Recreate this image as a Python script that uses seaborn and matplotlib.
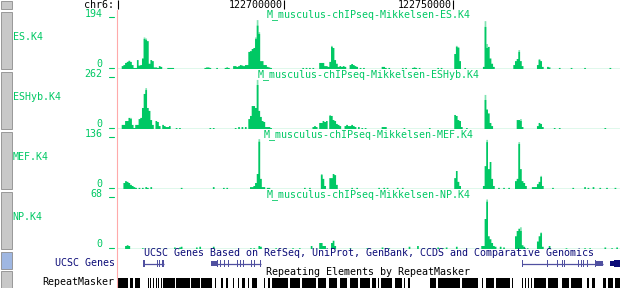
import matplotlib
matplotlib.use("Agg")
import matplotlib.pyplot as plt
from matplotlib.patches import Rectangle
from matplotlib.lines import Line2D
import numpy as np
import pandas as pd
import seaborn as sns

sns.set_theme(style="white")
plt.rcParams['font.family'] = ['DejaVu Sans Mono', 'DejaVu Sans']

# ---------------- data ----------------
CHROM = "chr6:"
WIN_START = 122650570
WIN_END = 122799460
RULER_TICKS = [122700000, 122750000]
BIN_BP = 500

track_labels = ["ES.K4", "ESHyb.K4", "MEF.K4", "NP.K4"]
track_titles = ["M_musculus-chIPseq-Mikkelsen-ES.K4",
                "M_musculus-chIPseq-Mikkelsen-ESHyb.K4",
                "M_musculus-chIPseq-Mikkelsen-MEF.K4",
                "M_musculus-chIPseq-Mikkelsen-NP.K4"]
track_max = [194, 262, 136, 68]

# (position in kb from window start, mean signal)
es = [(1.5, 11), (2.0, 15), (2.5, 23), (3.0, 27), (3.5, 30), (4.0, 27), (4.5, 15), (5.0, 4), (5.5, 4),
      (6.0, 34), (6.5, 13), (7.0, 15), (7.5, 40), (8.0, 114), (8.5, 110), (9.0, 106), (9.5, 20),
      (10.0, 34), (10.5, 30), (11.0, 6), (11.5, 6), (12.0, 4), (12.5, 11), (13.0, 8),
      (15.0, 4), (15.5, 4), (16.0, 4), (16.5, 4), (26.0, 4), (26.5, 6), (27.0, 6), (27.5, 4), (29.5, 4),
      (32.0, 4), (32.5, 6), (33.0, 4), (34.5, 11), (35.0, 11), (35.5, 8), (36.0, 11), (36.5, 15),
      (37.0, 13), (37.5, 11), (38.0, 15), (38.5, 15), (39.0, 65), (39.5, 68), (40.0, 76), (40.5, 80),
      (41.0, 114), (41.5, 165), (42.0, 133), (42.5, 30), (43.0, 30), (43.5, 15), (44.0, 15), (44.5, 8),
      (45.0, 6), (45.5, 4), (55.0, 4), (56.0, 4), (57.0, 4), (58.0, 4), (60.0, 23), (60.5, 23),
      (61.0, 23), (61.5, 11), (62.0, 11), (62.5, 8), (63.0, 27), (63.5, 84), (64.0, 80), (64.5, 34),
      (65.0, 20), (65.5, 8), (66.0, 11), (66.5, 8), (67.0, 11), (67.5, 8), (69.0, 15), (69.5, 19),
      (70.0, 15), (70.5, 11), (71.0, 8), (72.0, 4), (73.0, 4), (78.5, 8), (79.0, 8), (79.5, 4),
      (80.5, 4), (84.5, 4), (85.5, 4), (87.5, 4), (88.0, 6), (88.5, 4), (89.5, 4), (95.0, 4), (96.0, 4),
      (100.0, 57), (100.5, 84), (101.0, 80), (101.5, 30), (103.0, 4), (108.5, 8), (109.0, 160),
      (109.5, 80), (110.0, 84), (110.5, 40), (111.0, 20), (111.5, 8), (117.5, 15), (118.0, 30),
      (118.5, 38), (119.0, 65), (119.5, 30), (120.0, 11), (124.5, 15), (125.0, 34), (125.5, 30),
      (126.0, 8), (127.5, 8), (128.0, 6), (131.0, 4), (134.5, 4), (138.5, 4), (146.0, 4)]
es_max = [(3.5, 32), (8.0, 120), (8.5, 116), (41.0, 120), (41.5, 186), (42.0, 140), (63.5, 88),
          (100.5, 88), (101.0, 84), (109.0, 182), (109.5, 95), (119.0, 72), (125.0, 38)]

eshyb = [(1.5, 21), (2.0, 21), (2.5, 41), (3.0, 41), (3.5, 57), (4.0, 51), (4.5, 21), (5.0, 5),
         (5.5, 21), (6.0, 21), (6.5, 51), (7.0, 57), (7.5, 108), (8.0, 180), (8.5, 200), (9.0, 108),
         (9.5, 93), (10.0, 46), (10.5, 21), (11.5, 41), (12.0, 36), (12.5, 15), (13.5, 21), (14.0, 15),
         (14.5, 10), (15.0, 10), (15.5, 15), (17.5, 5), (18.5, 5), (27.5, 5), (28.5, 5), (35.0, 5),
         (36.0, 10), (37.0, 10), (38.0, 10), (39.0, 51), (39.5, 67), (40.0, 118), (40.5, 118),
         (41.0, 108), (41.5, 226), (42.0, 93), (42.5, 62), (43.0, 41), (43.5, 36), (44.0, 10),
         (44.5, 10), (45.0, 10), (45.5, 5), (58.0, 10), (58.5, 15), (59.0, 10), (60.0, 31), (60.5, 31),
         (61.0, 41), (61.5, 36), (62.0, 41), (63.0, 67), (63.5, 67), (64.0, 46), (64.5, 41), (65.0, 26),
         (65.5, 21), (66.0, 15), (67.5, 15), (68.0, 21), (68.5, 15), (69.0, 15), (69.5, 21), (70.0, 15),
         (70.5, 10), (71.5, 10), (72.5, 5), (73.5, 5), (78.5, 10), (79.0, 10), (79.5, 10), (85.0, 5),
         (92.5, 5), (100.0, 72), (100.5, 67), (101.0, 46), (101.5, 41), (102.0, 10), (103.5, 5),
         (109.0, 149), (109.5, 100), (110.0, 80), (110.5, 31), (111.0, 15), (118.5, 46), (119.0, 46),
         (119.5, 41), (120.0, 10), (124.5, 15), (125.0, 31), (125.5, 26), (126.0, 10), (129.5, 5),
         (131.0, 5), (144.5, 5)]
eshyb_max = [(4.0, 57), (8.5, 210), (41.5, 252), (63.0, 72), (109.0, 175), (119.5, 51)]

mef = [(2.0, 16), (2.5, 21), (3.0, 19), (3.5, 16), (4.0, 11), (4.5, 8), (5.0, 5), (5.5, 3), (6.5, 3),
       (7.5, 3), (8.5, 5), (9.0, 3), (10.0, 5), (19.0, 3), (28.5, 5), (31.5, 3), (32.5, 3), (39.5, 5),
       (40.0, 5), (40.5, 8), (41.0, 16), (41.5, 40), (42.0, 126), (42.5, 27), (43.0, 5), (43.5, 5),
       (44.5, 3), (45.0, 3), (55.5, 3), (57.0, 3), (60.5, 37), (61.0, 27), (61.5, 8), (63.0, 29),
       (63.5, 29), (64.0, 40), (64.5, 37), (65.0, 11), (69.5, 3), (71.0, 3), (77.5, 3), (79.0, 3),
       (80.0, 3), (83.0, 3), (84.5, 3), (100.0, 29), (100.5, 48), (101.0, 19), (101.5, 8), (108.5, 8),
       (109.0, 61), (109.5, 125), (110.0, 53), (110.5, 72), (111.0, 27), (111.5, 8), (113.0, 3),
       (114.5, 3), (116.0, 3), (118.0, 21), (118.5, 27), (119.0, 120), (119.5, 53), (120.0, 21),
       (120.5, 16), (121.0, 8), (123.0, 5), (123.5, 5), (124.0, 5), (124.5, 13), (125.0, 19),
       (125.5, 32), (126.0, 8), (129.0, 3), (135.0, 3), (138.5, 5), (139.5, 3), (141.0, 5), (143.0, 3),
       (145.0, 3), (147.5, 3)]
mef_max = [(42.0, 133), (60.5, 40), (109.5, 131), (119.0, 125), (125.5, 35)]

np_k4 = [(2.5, 4), (3.0, 5), (3.5, 4), (7.5, 1), (17.0, 2), (18.5, 2), (19.0, 3), (23.5, 2), (24.5, 3),
         (28.5, 3), (39.5, 1), (40.5, 1), (42.0, 4), (42.5, 3), (47.0, 1), (52.0, 1), (54.0, 1),
         (57.5, 4), (60.0, 8), (60.5, 8), (61.0, 4), (61.5, 4), (63.5, 8), (64.0, 11), (64.5, 4),
         (69.0, 1), (74.0, 1), (78.5, 2), (80.5, 1), (86.5, 3), (89.0, 4), (95.0, 2), (96.5, 1),
         (97.5, 2), (100.5, 3), (108.0, 4), (108.5, 4), (109.0, 40), (109.5, 63), (110.0, 17),
         (110.5, 13), (111.0, 8), (111.5, 4), (112.0, 3), (113.5, 3), (114.5, 2), (118.0, 17),
         (118.5, 24), (119.0, 27), (119.5, 24), (120.0, 5), (120.5, 3), (121.5, 1), (124.5, 10),
         (125.0, 17), (125.5, 21), (126.0, 3), (128.0, 4), (133.0, 1), (138.5, 1), (140.0, 1),
         (144.5, 2), (146.5, 1), (148.0, 2)]
np_k4_max = [(109.5, 66), (119.5, 29), (125.5, 22)]

track_data = [es, eshyb, mef, np_k4]
track_data_max = [es_max, eshyb_max, mef_max, np_k4_max]

# genes: (tx start kb, tx end kb, exons [(start, len)], utr blocks [(start, len)], colour key)
genes = [
    (7.7, 13.9, [(7.7, 0.5), (11.7, 0.3), (12.4, 0.3), (13.2, 0.3), (13.6, 0.3)], [], "light"),
    (27.8, 42.6, [(29.6, 0.3), (30.6, 0.3), (31.8, 0.3), (32.9, 0.3), (35.4, 0.3), (36.4, 0.3),
                  (37.4, 0.3), (39.7, 0.3), (40.6, 0.3), (42.3, 0.3)], [(27.8, 2.0)], "light"),
    (119.9, 143.9, [(119.9, 0.3), (127.2, 0.3), (130.2, 0.3), (131.6, 0.3), (132.4, 0.3),
                    (136.5, 0.3), (137.3, 0.3), (138.0, 0.3), (139.0, 0.3), (141.5, 0.3)],
     [(141.5, 2.4)], "light"),
    (145.9, 148.9, [(147.0, 1.9)], [(145.9, 1.2)], "dark"),
]

# RepeatMasker elements (start kb, end kb)
repeats = [(0.3, 3.3), (3.8, 4.7), (5.2, 6.8), (9.2, 9.5), (9.9, 10.2), (10.7, 11.0), (11.4, 11.7),
           (12.1, 12.4), (12.9, 13.2), (13.6, 17.2), (17.5, 21.6), (21.9, 24.6), (24.9, 28.1),
           (29.0, 29.3), (30.8, 31.4), (32.3, 32.9), (34.3, 34.6), (35.8, 36.1), (37.0, 37.9),
           (38.8, 39.1), (40.0, 41.4), (43.5, 43.8), (44.7, 45.3), (45.9, 50.6), (51.2, 54.2),
           (54.8, 58.9), (59.5, 61.9), (62.8, 65.1), (66.0, 68.1), (69.0, 71.3), (71.9, 74.9),
           (75.5, 76.7), (77.3, 77.6), (78.1, 81.4), (82.3, 84.4), (85.0, 85.2), (86.1, 86.7),
           (92.6, 94.4), (95.0, 101.5), (102.1, 106.9), (108.0, 108.3), (109.2, 111.6),
           (112.2, 116.3), (116.9, 117.2), (119.9, 120.2), (120.8, 121.1), (121.7, 122.0),
           (122.5, 122.8), (123.4, 127.0), (127.6, 130.5), (131.7, 133.8), (134.4, 137.6),
           (139.1, 139.7), (140.6, 141.5), (143.9, 144.7), (145.3, 146.8), (147.4, 148.9)]

# ---------------- style ----------------
W, H = 620, 288
GREEN = '#00C864'
LIGHT = '#7FE3B1'
NAVY = '#0C0C78'
GENE_LIGHT = '#5050A0'
FS = 7.2
X0, X1 = 117, 620

fig = plt.figure(figsize=(W / 100, H / 100), dpi=100)
fig.patch.set_facecolor('white')


def fx(x):
    return x / W


def fy(y):
    return 1 - y / H


def px_axes(x0, y0, x1, y1):
    return fig.add_axes([fx(x0), fy(y1), (x1 - x0) / W, (y1 - y0) / H])


# left-side buttons
buttons = [(1, 9, '#C8C8C8'), (12, 69, '#C8C8C8'), (72, 129, '#C8C8C8'), (132, 189, '#C8C8C8'),
           (192, 249, '#C8C8C8'), (252, 269, '#9FB7E2'), (271, 290, '#C8C8C8')]
for (b0, b1, col) in buttons:
    fig.patches.append(Rectangle((fx(1), fy(b1)), 11 / W, (b1 - b0) / H, transform=fig.transFigure,
                                 facecolor=col, edgecolor='#8C8C8C', lw=0.6))

# pink guideline
fig.add_artist(Line2D([fx(116.5), fx(116.5)], [fy(10), fy(288)], color='#FFAAAA', lw=0.8))

# ruler
axr = px_axes(X0, 0, X1, 10)
axr.set_xlim(WIN_START, WIN_END)
axr.set_ylim(10, 0)
axr.axis('off')
axr.vlines([WIN_START + 400] + RULER_TICKS, 0, 8.6, color='black', lw=0.8)
for t in RULER_TICKS:
    axr.text(t - 450, 8.3, f"{t}", ha='right', va='baseline', fontsize=FS, color='black')
fig.text(fx(114), fy(8.3), CHROM, ha='right', va='baseline', fontsize=FS, color='black')

for k in range(4):
    top = 17 + 60 * k
    base = 68.5 + 60 * k
    vmax = track_max[k]
    upp = vmax / 51.0
    ax = px_axes(X0, top, X1, base + 0.5)
    dmax = pd.DataFrame(track_data_max[k], columns=['kb', 'v'])
    dmax['bp'] = WIN_START + dmax['kb'] * 1000
    d = pd.DataFrame(track_data[k], columns=['kb', 'v'])
    d['bp'] = WIN_START + d['kb'] * 1000
    brange = (WIN_START - BIN_BP / 2, WIN_END + BIN_BP / 2)
    sns.histplot(data=dmax, x='bp', weights='v', binwidth=BIN_BP, binrange=brange, element='step',
                 fill=True, color=LIGHT, alpha=1, linewidth=0, ax=ax)
    sns.histplot(data=d, x='bp', weights='v', binwidth=BIN_BP, binrange=brange, element='step',
                 fill=True, color=GREEN, alpha=1, linewidth=0, ax=ax)
    ax.axhline(0, color=GREEN, lw=0.9)
    ax.set_xlim(WIN_START, WIN_END)
    ax.set_ylim(-0.5 * upp, vmax + 0.5 * upp)
    ax.axis('off')

    tb = 16.8 + 60 * k
    fig.text(fx((X0 + X1) / 2), fy(tb), track_titles[k], ha='center', va='baseline',
             fontsize=FS, color=GREEN)
    fig.text(fx(102.5), fy(tb), f"{vmax}", ha='right', va='baseline', fontsize=FS, color=GREEN)
    fig.text(fx(102.5), fy(tb + 50), "0", ha='right', va='baseline', fontsize=FS, color=GREEN)
    for yy in (top - 0.2, base - 0.1):
        fig.add_artist(Line2D([fx(109), fx(113.5)], [fy(yy), fy(yy)], color=GREEN, lw=0.8))
    fig.text(fx(12.5), fy(39.6 + 60.3 * k), track_labels[k], ha='left', va='baseline',
             fontsize=FS, color=GREEN)

# UCSC genes
fig.text(fx((X0 + X1) / 2), fy(256.3), "UCSC Genes Based on RefSeq, UniProt, GenBank, CCDS and Comparative Genomics",
         ha='center', va='baseline', fontsize=FS, color=NAVY)
fig.text(fx(114.5), fy(266), "UCSC Genes", ha='right', va='baseline', fontsize=FS, color=NAVY)
axg = px_axes(X0, 257, X1, 270)
axg.set_xlim(WIN_START, WIN_END)
axg.set_ylim(270, 257)
axg.axis('off')
for (s, e, exons, utrs, ck) in genes:
    col = GENE_LIGHT if ck == "light" else NAVY
    axg.hlines(263.5, WIN_START + s * 1000, WIN_START + e * 1000, color=col, lw=0.9)
    for (ex_s, ln) in exons:
        axg.bar(x=WIN_START + ex_s * 1000, height=7.8, width=ln * 1000, bottom=259.6, align='edge',
                color=col, linewidth=0)
    for (us, ln) in utrs:
        axg.bar(x=WIN_START + us * 1000, height=4.6, width=ln * 1000, bottom=261.3, align='edge',
                color=col, linewidth=0)

# RepeatMasker
fig.text(fx((X0 + X1) / 2), fy(275.3), "Repeating Elements by RepeatMasker", ha='center',
         va='baseline', fontsize=FS, color='black')
fig.text(fx(113.8), fy(285), "RepeatMasker", ha='right', va='baseline', fontsize=FS, color='black')
axm = px_axes(X0, 277, X1, 288)
axm.set_xlim(WIN_START, WIN_END)
axm.set_ylim(288, 277)
axm.axis('off')
axm.broken_barh([(WIN_START + a * 1000, (b - a) * 1000) for a, b in repeats], (278, 10),
                facecolors='black', linewidth=0)

fig.savefig("out.png", dpi=100, facecolor='white')
